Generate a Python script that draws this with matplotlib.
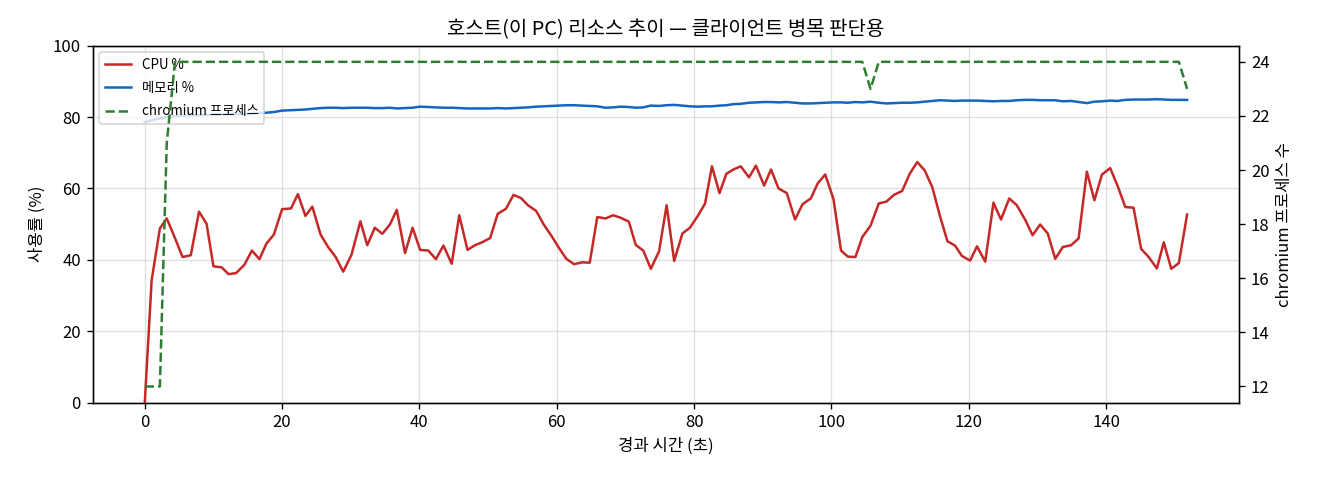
import matplotlib
matplotlib.use("Agg")
import matplotlib.pyplot as plt

plt.rcParams['font.family'] = ['Noto Sans CJK KR', 'DejaVu Sans']
plt.rcParams['axes.unicode_minus'] = False

title = "호스트(이 PC) 리소스 추이 — 클라이언트 병목 판단용"
xlabel = "경과 시간 (초)"
ylabel_left = "사용률 (%)"
ylabel_right = "chromium 프로세스 수"
label_cpu = "CPU %"
label_mem = "메모리 %"
label_proc = "chromium 프로세스"

elapsed = [
    0.0, 1.0, 2.2, 3.2, 4.4, 5.5, 6.7, 7.9, 9.0, 10.0,
    11.2, 12.2, 13.3, 14.5, 15.6, 16.7, 17.7, 18.8, 20.0, 21.3,
    22.3, 23.4, 24.4, 25.6, 26.7, 27.8, 28.9, 30.1, 31.4, 32.4,
    33.5, 34.6, 35.7, 36.7, 37.9, 39.0, 40.1, 41.3, 42.4, 43.5,
    44.7, 45.8, 47.0, 48.1, 49.2, 50.3, 51.4, 52.6, 53.7, 54.8,
    55.8, 57.0, 58.1, 59.2, 60.4, 61.4, 62.5, 63.7, 64.8, 65.9,
    67.1, 68.2, 69.3, 70.5, 71.5, 72.6, 73.7, 74.9, 76.0, 77.1,
    78.3, 79.4, 80.6, 81.6, 82.6, 83.7, 84.7, 85.7, 86.8, 88.0,
    89.0, 90.2, 91.2, 92.3, 93.5, 94.7, 95.8, 97.0, 98.0, 99.1,
    100.3, 101.4, 102.4, 103.5, 104.5, 105.7, 106.9, 108.0, 109.1, 110.3,
    111.4, 112.5, 113.6, 114.7, 115.8, 116.9, 118.0, 119.0, 120.2, 121.2,
    122.4, 123.6, 124.7, 125.9, 127.0, 128.2, 129.3, 130.4, 131.5, 132.6,
    133.7, 134.9, 136.0, 137.2, 138.3, 139.4, 140.6, 141.7, 142.8, 144.0,
    145.1, 146.2, 147.4, 148.4, 149.5, 150.6, 151.8,
]

cpu = [
    0.0, 34.3, 48.8, 51.6, 46.1, 40.8, 41.3, 53.5, 50.1, 38.2,
    37.9, 36.0, 36.3, 38.6, 42.6, 40.2, 44.5, 47.1, 54.2, 54.4,
    58.4, 52.3, 54.9, 47.1, 43.6, 40.8, 36.7, 41.4, 50.8, 44.1,
    49.0, 47.3, 49.9, 54.0, 41.9, 49.0, 42.8, 42.6, 40.2, 44.0,
    38.9, 52.5, 42.8, 44.1, 45.0, 46.1, 52.9, 54.3, 58.2, 57.3,
    55.3, 53.7, 49.9, 46.8, 43.1, 40.3, 38.8, 39.3, 39.2, 52.0,
    51.6, 52.5, 51.8, 50.7, 44.2, 42.6, 37.5, 42.4, 55.3, 39.7,
    47.4, 49.0, 52.5, 55.8, 66.2, 58.7, 64.1, 65.3, 66.2, 63.1,
    66.4, 60.8, 65.3, 60.0, 58.7, 51.3, 55.6, 57.2, 61.4, 63.9,
    57.0, 42.6, 40.9, 40.8, 46.4, 49.6, 55.8, 56.3, 58.2, 59.3,
    64.1, 67.4, 65.0, 60.3, 52.3, 45.2, 44.0, 41.1, 39.8, 43.8,
    39.5, 56.0, 51.3, 57.2, 55.3, 51.3, 46.9, 49.9, 47.4, 40.3,
    43.6, 44.1, 46.0, 64.7, 56.7, 63.9, 65.7, 60.6, 54.8, 54.6,
    43.1, 40.8, 37.6, 44.9, 37.5, 39.1, 52.7,
]

memory = [
    78.6, 79.1, 79.6, 80.0, 80.2, 80.4, 80.5, 80.5, 80.6, 80.7,
    80.7, 80.8, 80.8, 80.9, 80.9, 81.1, 81.2, 81.4, 81.8, 81.9,
    82.0, 82.1, 82.3, 82.5, 82.6, 82.6, 82.5, 82.6, 82.6, 82.6,
    82.5, 82.5, 82.6, 82.4, 82.5, 82.6, 82.9, 82.8, 82.7, 82.6,
    82.6, 82.5, 82.4, 82.4, 82.4, 82.4, 82.5, 82.4, 82.5, 82.6,
    82.7, 82.9, 83.0, 83.1, 83.2, 83.3, 83.3, 83.2, 83.1, 83.0,
    82.6, 82.7, 82.9, 82.8, 82.6, 82.7, 83.2, 83.1, 83.3, 83.4,
    83.2, 83.0, 82.9, 83.0, 83.0, 83.2, 83.3, 83.6, 83.7, 84.0,
    84.1, 84.2, 84.2, 84.1, 84.2, 84.0, 83.8, 83.8, 83.9, 84.0,
    84.1, 84.1, 84.0, 84.2, 84.1, 84.3, 84.0, 83.8, 83.9, 84.0,
    84.0, 84.1, 84.3, 84.5, 84.7, 84.6, 84.5, 84.6, 84.6, 84.6,
    84.5, 84.4, 84.5, 84.5, 84.7, 84.8, 84.8, 84.7, 84.7, 84.7,
    84.4, 84.5, 84.2, 83.9, 84.3, 84.4, 84.6, 84.5, 84.8, 84.9,
    84.9, 84.9, 85.0, 84.9, 84.8, 84.8, 84.8,
]

chromium = [
    12, 12, 12, 21, 24, 24, 24, 24, 24, 24,
    24, 24, 24, 24, 24, 24, 24, 24, 24, 24,
    24, 24, 24, 24, 24, 24, 24, 24, 24, 24,
    24, 24, 24, 24, 24, 24, 24, 24, 24, 24,
    24, 24, 24, 24, 24, 24, 24, 24, 24, 24,
    24, 24, 24, 24, 24, 24, 24, 24, 24, 24,
    24, 24, 24, 24, 24, 24, 24, 24, 24, 24,
    24, 24, 24, 24, 24, 24, 24, 24, 24, 24,
    24, 24, 24, 24, 24, 24, 24, 24, 24, 24,
    24, 24, 24, 24, 24, 23, 24, 24, 24, 24,
    24, 24, 24, 24, 24, 24, 24, 24, 24, 24,
    24, 24, 24, 24, 24, 24, 24, 24, 24, 24,
    24, 24, 24, 24, 24, 24, 24, 24, 24, 24,
    24, 24, 24, 24, 24, 24, 23,
]

fig = plt.figure(figsize=(11, 4), dpi=120)
ax1 = fig.add_axes([0.0702, 0.161, 0.8686, 0.744])
ax2 = ax1.twinx()

l1, = ax1.plot(elapsed, cpu, color="#c62828", lw=1.5, label=label_cpu)
l2, = ax1.plot(elapsed, memory, color="#1565c0", lw=1.5, label=label_mem)
l3, = ax2.plot(elapsed, chromium, color="#2e7d32", lw=1.5, ls="--", label=label_proc)

ax1.set_ylim(0, 100)
ax1.set_xlabel(xlabel, fontsize=10)
ax1.set_ylabel(ylabel_left, fontsize=10)
ax2.set_ylabel(ylabel_right, fontsize=10)
ax1.set_title(title, fontsize=12)
ax1.grid(True, color="#cccccc", alpha=0.6, lw=0.8)
ax1.tick_params(labelsize=10)
ax2.tick_params(labelsize=10)

ax1.legend(handles=[l1, l2, l3], loc="upper left", fontsize=8,
           framealpha=0.8, labelspacing=0.7)

fig.savefig("out.png", dpi=120)
